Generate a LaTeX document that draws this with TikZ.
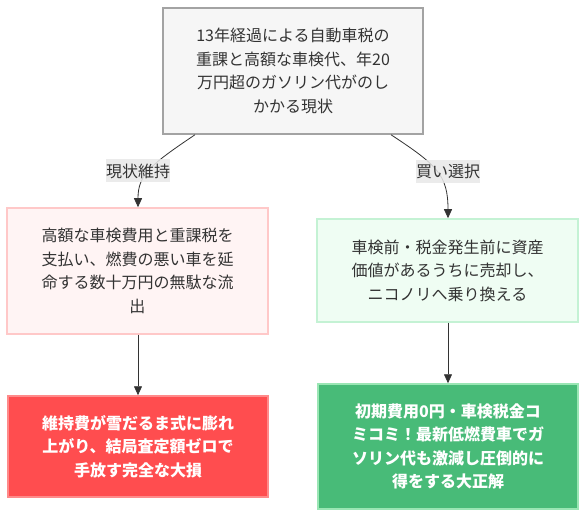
\documentclass[tikz,border=0pt]{standalone}
\usepackage{fontspec}
\setmainfont{Noto Sans CJK JP}
\usetikzlibrary{arrows.meta,calc}
\definecolor{txtdark}{HTML}{333333}
\definecolor{topfill}{HTML}{F6F6F6}
\definecolor{topdraw}{HTML}{A3A3A3}
\definecolor{pinkfill}{HTML}{FFF4F4}
\definecolor{pinkdraw}{HTML}{FFC8C8}
\definecolor{mintfill}{HTML}{EFFDF3}
\definecolor{mintdraw}{HTML}{C4F2D4}
\definecolor{redfill}{HTML}{FF4D4F}
\definecolor{reddraw}{HTML}{FF8A8A}
\definecolor{greenfill}{HTML}{48BB78}
\definecolor{greendraw}{HTML}{9AE6B4}
\definecolor{lblfill}{HTML}{E8E8E8}
\definecolor{edgecol}{HTML}{333333}
\tikzset{
  box/.style={rectangle, line width=1.5pt, align=center, inner sep=0pt,
    font=\fontsize{16}{23.5}\selectfont, text=txtdark},
  topbox/.style={box, fill=topfill, draw=topdraw},
  pinkbox/.style={box, fill=pinkfill, draw=pinkdraw},
  mintbox/.style={box, fill=mintfill, draw=mintdraw},
  redbox/.style={box, fill=redfill, draw=reddraw, text=white, font=\fontsize{16}{23.5}\selectfont\bfseries},
  greenbox/.style={box, fill=greenfill, draw=greendraw, text=white, font=\fontsize{16}{23.5}\selectfont\bfseries},
  elabel/.style={rectangle, fill=lblfill, fill opacity=0.85, text opacity=1, text=txtdark,
    inner xsep=0pt, inner ysep=0pt, minimum height=23pt, minimum width=64pt,
    font=\fontsize{16}{20}\selectfont},
  conn/.style={draw=edgecol, line width=0.8pt, -{Triangle[length=9pt,width=8pt]}},
}
\begin{document}
\begin{tikzpicture}[x=1pt,y=-1pt]
\useasboundingbox (0,0) rectangle (586,518);
\node[topbox, minimum width=260pt, minimum height=126pt] (A) at (293,71)
  {13年経過による自動車税の\\重課と高額な車検代、年20\\万円超のガソリン代がのし\\かかる現状};
\node[pinkbox, minimum width=261pt, minimum height=126pt] (B) at (137.5,271)
  {高額な車検費用と重課税を\\支払い、燃費の悪い車を延\\命する数十万円の無駄な流\\出};
\node[mintbox, minimum width=261pt, minimum height=103pt] (C) at (447.5,270.5)
  {車検前・税金発生前に資産\\価値があるうちに売却し、\\ニコノリへ乗り換える};
\node[redbox, minimum width=260pt, minimum height=101pt] (D) at (138,446.5)
  {維持費が雪だるま式に膨れ\\上がり、結局査定額ゼロで\\手放す完全な大損};
\node[greenbox, minimum width=260pt, minimum height=125pt] (E) at (448,446.5)
  {初期費用0円・車検税金コ\\ミコミ！最新低燃費車でガ\\ソリン代も激減し圧倒的に\\得をする大正解};
\coordinate (As1) at ($(A.south)+(-98,0)$);
\coordinate (As2) at ($(A.south)+(98,0)$);
\draw[conn] (As1) .. controls (150,165) and (138,175) .. (B.north -| 138,0);
\draw[conn] (As2) .. controls (437,165) and (448,175) .. (C.north -| 448,0);
\draw[conn] (B.south -| 138,0) -- (D.north -| 138,0);
\draw[conn] (C.south -| 448,0) -- (E.north -| 448,0);
\node[elabel] (L1) at (138,171) {現状維持};
\node[elabel] (L2) at (448,171.5) {買い選択};
\end{tikzpicture}
\end{document}
